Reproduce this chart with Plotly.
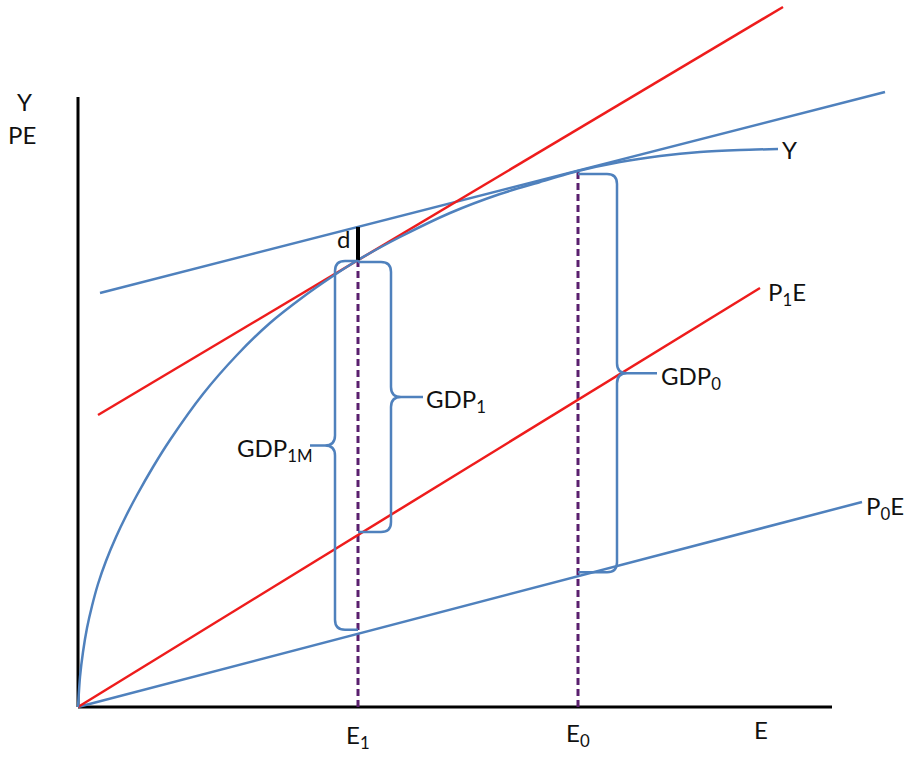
import numpy as np
import plotly.graph_objects as go

# ---------------- data (model units: E along x, Y / PE along y) ----------------
# Output curve Y(E)
E_curve = [0, 2, 5, 9, 14, 20, 28, 38, 48, 59, 75, 92, 125, 159, 192, 225, 252, 280,
           322, 372, 422, 462, 500, 542, 582, 622, 662, 700]
Y_curve = [0, 30, 55, 79, 101, 123, 146, 170, 191, 212, 240, 267, 313, 352, 384, 410, 429, 447,
           470, 494, 513, 525, 536, 545, 551, 555, 557, 558]

# Tangent to Y at E0 (blue) and tangent at E1 (red)
tan0_x = [22, 807]
tan0_y = [414, 615]
tan1_x = [20, 705]
tan1_y = [292, 700]

# Expenditure lines through the origin
p1e_x = [0, 682]
p1e_y = [0, 419]
p0e_x = [0, 784]
p0e_y = [0, 205]

# Employment levels
E1 = 280
E0 = 500

# Axis extents
axis_x_max = 754
axis_y_max = 610

# Labels
lab_Y_axis = ["Y", "PE"]
lab_E = ["E<sub>1</sub>", "E<sub>0</sub>", "E"]
lab_lines = ["Y", "P<sub>1</sub>E", "P<sub>0</sub>E"]
lab_gdp = ["GDP<sub>1M</sub>", "GDP<sub>1</sub>", "GDP<sub>0</sub>"]
lab_d = "d"

# ---------------- helpers ----------------
def at(xs, ys, x):
    return float(np.interp(x, xs, ys))

Y1 = at(E_curve, Y_curve, E1)
Y0 = at(E_curve, Y_curve, E0)
P1E_E1 = at(p1e_x, p1e_y, E1)
P0E_E1 = at(p0e_x, p0e_y, E1)
P0E_E0 = at(p0e_x, p0e_y, E0)
T0_E1 = at(tan0_x, tan0_y, E1)

BLUE = "#4f81bd"
RED = "#ee1c1c"
PURPLE = "#5a1f6e"
BLACK = "#000000"
FONT = dict(family="Lato, 'Open Sans', sans-serif", size=24, color="#111111")

fig = go.Figure()

def line(xs, ys, color, width, dash=None, shape="linear"):
    fig.add_trace(go.Scatter(x=xs, y=ys, mode="lines", hoverinfo="skip",
                             line=dict(color=color, width=width, dash=dash, shape=shape)))

# axes
line([0, 0], [0, axis_y_max], BLACK, 3)
line([0, axis_x_max], [0, 0], BLACK, 3)

# dashed verticals
line([E1, E1], [0, Y1], PURPLE, 3, dash="7px,4px")
line([E0, E0], [0, Y0], PURPLE, 3, dash="7px,4px")

# expenditure lines
line(p0e_x, p0e_y, BLUE, 2.5)
line(p1e_x, p1e_y, RED, 2.5)

# tangents
line(tan0_x, tan0_y, BLUE, 2.5)
line(tan1_x, tan1_y, RED, 2.5)

# output curve
fig.add_trace(go.Scatter(x=E_curve, y=Y_curve, mode="lines", hoverinfo="skip",
                         line=dict(color=BLUE, width=2.5, shape="spline", smoothing=0.7)))

# d segment
line([E1, E1], [Y1, T0_E1], BLACK, 4)

# braces
def brace(x0, xv, y0, y1, tip, r=10):
    s = 1 if xv > x0 else -1
    ym = (y0 + y1) / 2
    p = (f"M {x0},{y1} L {xv - s*r},{y1} Q {xv},{y1} {xv},{y1 - r} "
         f"L {xv},{ym + r} Q {xv},{ym} {xv + s*r},{ym} L {xv + s*tip},{ym} "
         f"M {xv + s*r},{ym} Q {xv},{ym} {xv},{ym - r} "
         f"L {xv},{y0 + r} Q {xv},{y0} {xv - s*r},{y0} L {x0},{y0}")
    fig.add_shape(type="path", path=p, xref="x", yref="y",
                  line=dict(color=BLUE, width=2.5))
    return xv + s * tip, ym

tip1m = brace(E1, E1 - 23, P0E_E1 + 4, Y1 - 1, 25)
tip1 = brace(E1, E1 + 33, P1E_E1 + 3, Y1 - 2, 32)
tip0 = brace(E0, E0 + 39, P0E_E0 + 4, Y0 - 3, 40)

def label(text, x, y, xa="center", ya="middle"):
    fig.add_annotation(x=x, y=y, text=text, showarrow=False, xanchor=xa, yanchor=ya,
                       font=FONT, xref="x", yref="y")

label(lab_Y_axis[0], -54, 606)
label(lab_Y_axis[1], -56, 573)
label(lab_d, E1 - 15, (Y1 + T0_E1) / 2 + 5)
label(lab_gdp[0], tip1m[0] + 5, tip1m[1] - 4, xa="right")
label(lab_gdp[1], tip1[0] + 1, tip1[1] - 4, xa="left")
label(lab_gdp[2], tip0[0] + 2, tip0[1] - 4, xa="left")
label(lab_lines[0], E_curve[-1] + 2, Y_curve[-1], xa="left")
label(lab_lines[1], p1e_x[-1] + 6, p1e_y[-1] - 5, xa="left")
label(lab_lines[2], p0e_x[-1] + 2, p0e_y[-1] - 5, xa="left")
label(lab_E[0], E1, -29)
label(lab_E[1], E0, -27)
label(lab_E[2], 683, -22)

fig.update_layout(
    width=907, height=759,
    margin=dict(l=0, r=0, t=0, b=0),
    paper_bgcolor="white", plot_bgcolor="white",
    showlegend=False,
    xaxis=dict(range=[-78, 829], visible=False, fixedrange=True),
    yaxis=dict(range=[-52, 707], visible=False, fixedrange=True),
)

fig.write_html("out.html", config={"displayModeBar": False},
               post_script="document.body.style.margin='0';document.body.style.overflow='hidden';")
